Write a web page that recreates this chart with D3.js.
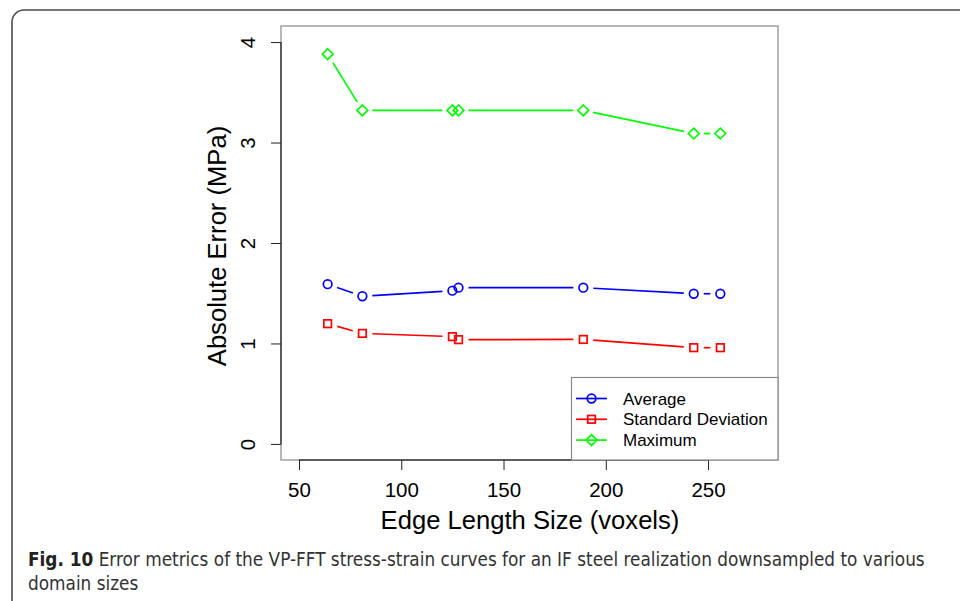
<!DOCTYPE html>
<html>
<head>
<meta charset="utf-8">
<script src="https://cdn.jsdelivr.net/npm/d3@7/dist/d3.min.js"></script>
<style>
  html, body { margin: 0; padding: 0; background: #fff; }
  svg { display: block; }
</style>
</head>
<body>
<svg id="chart" width="960" height="601"></svg>
<script>
// ---- data ----
const edgeSizes = [64, 81, 125, 128, 189, 243, 256];
const averageErr = [1.59, 1.47, 1.525, 1.555, 1.555, 1.495, 1.495];
const stdDevErr = [1.197, 1.10, 1.068, 1.038, 1.04, 0.958, 0.958];
const maximumErr = [3.88, 3.32, 3.32, 3.32, 3.32, 3.09, 3.09];
const xTicks = [50, 100, 150, 200, 250];
const yTicks = [0, 1, 2, 3, 4];
const seriesNames = ["Average", "Standard Deviation", "Maximum"];
const xTitle = "Edge Length Size (voxels)";
const yTitle = "Absolute Error (MPa)";
const captionBold = "Fig. 10";
const captionLine1 = " Error metrics of the VP-FFT stress-strain curves for an IF steel realization downsampled to various";
const captionLine2 = "domain sizes";

const series = [
  { name: seriesNames[0], values: averageErr, color: "#0000FF", shape: "circle" },
  { name: seriesNames[1], values: stdDevErr, color: "#FF0000", shape: "square" },
  { name: seriesNames[2], values: maximumErr, color: "#00FF00", shape: "diamond" }
];

const svg = d3.select("#chart");
const font = "'Liberation Sans', Arial, Helvetica, sans-serif";

// outer frame with rounded corner
svg.append("path")
  .attr("d", "M12,601 V22 A12,12 0 0 1 24,10 H960")
  .attr("fill", "none").attr("stroke", "#4a4a4a").attr("stroke-width", 1.6);

// plot region
const L = 281, R = 778, T = 26, B = 460;
const x = d3.scaleLinear().domain([41.2, 284.2]).range([L, R]);
const y = d3.scaleLinear().domain([-0.16, 4.16]).range([B, T]);

// box
svg.append("rect").attr("x", L).attr("y", T).attr("width", R - L).attr("height", B - T)
  .attr("fill", "none").attr("stroke", "#8a8a8a").attr("stroke-width", 1.2);

// axes
const yAxis = d3.axisLeft(y).tickValues(yTicks).tickSize(10).tickFormat(d3.format("d"));
const gy = svg.append("g").attr("transform", `translate(${L},0)`).call(yAxis);
gy.select(".domain").attr("d", `M-0,${y(0)}V${y(4)}`).attr("stroke", "#000");
gy.selectAll(".tick line").attr("stroke", "#222");
gy.selectAll(".tick text")
  .attr("x", 0).attr("y", 0).attr("dy", null)
  .attr("transform", "translate(-26,0) rotate(-90)")
  .attr("text-anchor", "middle")
  .style("font-family", font).style("font-size", "20.5px").attr("fill", "#000");

const xAxis = d3.axisBottom(x).tickValues(xTicks).tickSize(10).tickFormat(d3.format("d"));
const gx = svg.append("g").attr("transform", `translate(0,${B})`).call(xAxis);
gx.select(".domain").attr("d", `M${x(50)},0H${x(250)}`).attr("stroke", "#000");
gx.selectAll(".tick line").attr("stroke", "#222");
gx.selectAll(".tick text").attr("y", 0).attr("dy", "37px")
  .style("font-family", font).style("font-size", "20.5px").attr("fill", "#000");
gy.attr("font-family", null); gx.attr("font-family", null);

// axis titles
svg.append("text").attr("x", (L + R) / 2 + 0.5).attr("y", 529)
  .attr("text-anchor", "middle").style("font-family", font).style("font-size", "25.6px")
  .attr("fill", "#000").text(xTitle);
svg.append("text").attr("transform", `translate(226,${(T + B) / 2 + 3}) rotate(-90)`)
  .attr("text-anchor", "middle").style("font-family", font).style("font-size", "25.6px")
  .attr("fill", "#000").text(yTitle);

// marker drawing
function marker(g, shape, cx, cy, color) {
  if (shape === "circle") {
    g.append("circle").attr("cx", cx).attr("cy", cy).attr("r", 4.3)
      .attr("fill", "none").attr("stroke", color).attr("stroke-width", 1.7);
  } else if (shape === "square") {
    g.append("rect").attr("x", cx - 3.8).attr("y", cy - 3.8).attr("width", 7.6).attr("height", 7.6)
      .attr("fill", "none").attr("stroke", color).attr("stroke-width", 1.7);
  } else {
    const r = 5.4;
    g.append("path").attr("d", `M${cx},${cy - r}L${cx + r},${cy}L${cx},${cy + r}L${cx - r},${cy}Z`)
      .attr("fill", "none").attr("stroke", color).attr("stroke-width", 1.7);
  }
}

// series: type "b" (points + lines with gaps)
const gap = 10;
series.forEach(s => {
  const g = svg.append("g");
  const pts = edgeSizes.map((e, i) => [x(e), y(s.values[i])]);
  for (let i = 0; i < pts.length - 1; i++) {
    const [x0, y0] = pts[i], [x1, y1] = pts[i + 1];
    const dx = x1 - x0, dy = y1 - y0, d = Math.hypot(dx, dy);
    if (d <= 2 * gap) continue;
    const ux = dx / d, uy = dy / d;
    g.append("line")
      .attr("x1", x0 + ux * gap).attr("y1", y0 + uy * gap)
      .attr("x2", x1 - ux * gap).attr("y2", y1 - uy * gap)
      .attr("stroke", s.color).attr("stroke-width", 1.7);
  }
  pts.forEach(p => marker(g, s.shape, p[0], p[1], s.color));
});

// legend
const lg = svg.append("g");
const lx0 = 571.5, ly0 = 377.5;
lg.append("rect").attr("x", lx0).attr("y", ly0).attr("width", R - lx0).attr("height", B - ly0)
  .attr("fill", "#fff").attr("stroke", "#8a8a8a").attr("stroke-width", 1.2);
series.forEach((s, i) => {
  const yy = 398.5 + i * 20.8;
  lg.append("line").attr("x1", 576).attr("x2", 607).attr("y1", yy).attr("y2", yy)
    .attr("stroke", s.color).attr("stroke-width", 1.7);
  marker(lg, s.shape, 591.5, yy, s.color);
  lg.append("text").attr("x", 623).attr("y", yy + 6)
    .style("font-family", font).style("font-size", "17px").attr("fill", "#000").text(s.name);
});

// caption
const capFont = "'Liberation Sans Narrow', 'DejaVu Sans Condensed', 'Open Sans', sans-serif";
const c1 = svg.append("text").attr("x", 28).attr("y", 566)
  .style("font-family", capFont).style("font-size", "18px").attr("fill", "#333");
c1.append("tspan").attr("font-weight", "bold").attr("fill", "#222").text(captionBold);
c1.append("tspan").text(captionLine1);
const w = c1.node().getComputedTextLength();
const fs = 18 * 897 / w;
c1.style("font-size", fs + "px");
svg.append("text").attr("x", 28).attr("y", 590)
  .style("font-family", capFont).style("font-size", fs + "px").attr("fill", "#333").text(captionLine2);
</script>
</body>
</html>
